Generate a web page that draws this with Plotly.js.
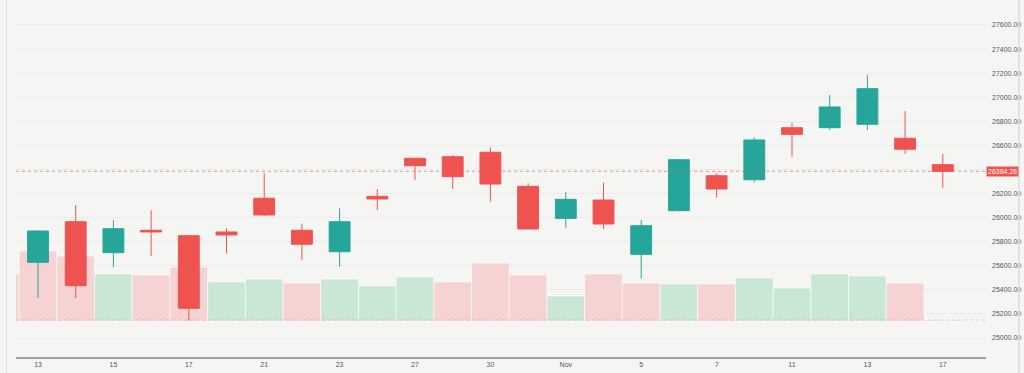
<!DOCTYPE html>
<html>
<head>
<meta charset="utf-8">
<script src="https://cdn.plot.ly/plotly-3.0.1.min.js"></script>
<style>
  html, body { margin: 0; padding: 0; background: #F5F6F4; }
  #chart { width: 1024px; height: 373px; }
</style>
</head>
<body>
<div id="chart"></div>
<script>
// ---- Data ----
const candleDates = ['Oct 13','Oct 14','Oct 15','Oct 16','Oct 17','Oct 20','Oct 21','Oct 22','Oct 23','Oct 24',
  'Oct 27','Oct 28','Oct 30','Oct 31','Nov 3','Nov 4','Nov 5','Nov 6','Nov 7','Nov 10',
  'Nov 11','Nov 12','Nov 13','Nov 14','Nov 17'];
const openPrices  = [25629, 25966, 25709, 25895, 25850, 25881, 26161, 25895, 25717, 26177,
  26493, 26506, 26543, 26260, 25994, 26146, 25695, 26058, 26348, 26315,
  26747, 26747, 26775, 26659, 26440];
const highPrices  = [25895, 26105, 25980, 26061, 25856, 25911, 26368, 25950, 26078, 26238,
  26495, 26520, 26584, 26285, 26213, 26290, 25980, 26487, 26368, 26667,
  26789, 27019, 27185, 26886, 26529];
const lowPrices   = [25332, 25332, 25588, 25681, 25144, 25704, 26014, 25648, 25592, 26063,
  26313, 26238, 26132, 25900, 25916, 25906, 25493, 26052, 26166, 26293,
  26506, 26728, 26728, 26529, 26249];
const closePrices = [25889, 25435, 25908, 25881, 25247, 25856, 26022, 25779, 25966, 26155,
  26431, 26340, 26279, 25906, 26152, 25947, 25933, 26481, 26238, 26645,
  26692, 26919, 27071, 26568, 26384.28];

// volume includes one earlier bar (Oct 10) that is only partly visible at the left edge
const volumeDates = ['Oct 10','Oct 13','Oct 14','Oct 15','Oct 16','Oct 17','Oct 20','Oct 21','Oct 22','Oct 23','Oct 24',
  'Oct 27','Oct 28','Oct 30','Oct 31','Nov 3','Nov 4','Nov 5','Nov 6','Nov 7','Nov 10',
  'Nov 11','Nov 12','Nov 13','Nov 14','Nov 17'];
const volumes  = [4700, 7000, 6500, 4700, 4600, 5400, 3900, 4200, 3800, 4200, 3500,
  4400, 3900, 5800, 4600, 2500, 4700, 3800, 3700, 3700, 4300,
  3300, 4700, 4500, 3800, 100];
const volumeUp = [false, false, false, true, false, false, true, true, false, true, true,
  true, false, false, false, true, false, false, true, false, true,
  true, true, true, false, false];

const tickDates  = ['Oct 13','Oct 15','Oct 17','Oct 21','Oct 23','Oct 27','Oct 30','Nov 3','Nov 5','Nov 7','Nov 11','Nov 13','Nov 17'];
const tickLabels = ['13','15','17','21','23','27','30','Nov','5','7','11','13','17'];
const priceTicks = [25000, 25200, 25400, 25600, 25800, 26000, 26200, 26400, 26600, 26800, 27000, 27200, 27400, 27600];
const lastPrice = 26384.28;

// ---- Styles ----
const UP = '#26A69A', DOWN = '#EF5350';
const VOL_UP = '#C9E7D4', VOL_DOWN = '#F5D3D2';
const BG = '#F5F6F4';
const FONT = 'Liberation Sans, Arial, sans-serif';

// the price label covers the nearest tick label, as in the reference
const priceTickText = priceTicks.map(v => Math.abs(v - lastPrice) < 100 ? '' : v.toFixed(2));

const volumeTrace = {
  type: 'bar',
  x: volumeDates,
  y: volumes,
  yaxis: 'y',
  xaxis: 'x',
  width: 1,
  marker: {
    color: volumeUp.map(u => u ? VOL_UP : VOL_DOWN),
    line: { color: 'rgba(255,255,255,0.55)', width: 1 }
  },
  hoverinfo: 'skip',
  showlegend: false
};

const candleTrace = {
  type: 'candlestick',
  x: candleDates,
  open: openPrices,
  high: highPrices,
  low: lowPrices,
  close: closePrices,
  xaxis: 'x',
  yaxis: 'y2',
  whiskerwidth: 0,
  increasing: { line: { color: UP, width: 1 }, fillcolor: UP },
  decreasing: { line: { color: DOWN, width: 1 }, fillcolor: DOWN },
  showlegend: false
};

const layout = {
  width: 1024,
  height: 373,
  margin: { l: 16, r: 38, t: 0, b: 16, pad: 0 },
  paper_bgcolor: BG,
  plot_bgcolor: BG,
  showlegend: false,
  boxgap: 0.21,
  font: { family: FONT, size: 7, color: '#555' },
  xaxis: {
    type: 'category',
    categoryorder: 'array',
    categoryarray: volumeDates,
    range: [0.416, 26.146],
    tickvals: tickDates,
    ticktext: tickLabels,
    showgrid: false,
    zeroline: false,
    showline: true,
    linecolor: '#A3A3A3',
    linewidth: 1.5,
    ticks: '',
    tickfont: { family: FONT, size: 7, color: '#555' },
    rangeslider: { visible: false },
    fixedrange: true
  },
  yaxis: {
    range: [-3600, 32100],
    visible: false,
    showgrid: false,
    zeroline: false,
    fixedrange: true
  },
  yaxis2: {
    overlaying: 'y',
    side: 'right',
    range: [24842.4, 27807.6],
    tickvals: priceTicks,
    ticktext: priceTickText,
    showgrid: true,
    gridcolor: '#EBECEA',
    gridwidth: 1,
    zeroline: false,
    showline: false,
    ticks: '',
    ticklabelstandoff: 5,
    tickfont: { family: FONT, size: 7, color: '#555' },
    automargin: false,
    fixedrange: true
  },
  shapes: [
    { type: 'line', xref: 'paper', yref: 'y2', x0: 0, x1: 1, y0: lastPrice, y1: lastPrice,
      line: { color: 'rgba(239,83,80,0.6)', width: 1, dash: 'dot' } },
    { type: 'line', xref: 'paper', yref: 'y', x0: 0, x1: 1, y0: volumes[volumes.length - 1], y1: volumes[volumes.length - 1],
      line: { color: 'rgba(239,83,80,0.3)', width: 1, dash: 'dot' } },
    { type: 'line', xref: 'paper', yref: 'paper', x0: -0.0098, x1: -0.0098, y0: -0.05, y1: 1.01,
      line: { color: '#E3E4E6', width: 1 } },
    { type: 'line', xref: 'paper', yref: 'paper', x0: 1.034, x1: 1.034, y0: -0.05, y1: 1.01,
      line: { color: '#DCDDDF', width: 1.5 } }
  ],
  annotations: [
    { xref: 'paper', yref: 'y2', x: 1, y: lastPrice, xanchor: 'left', yanchor: 'middle',
      text: '26384.28', showarrow: false, bgcolor: DOWN, borderpad: 1,
      font: { family: FONT, size: 7, color: '#FFFFFF' } }
  ]
};

Plotly.newPlot('chart', [volumeTrace, candleTrace], layout, { displayModeBar: false, staticPlot: true });
</script>
</body>
</html>
